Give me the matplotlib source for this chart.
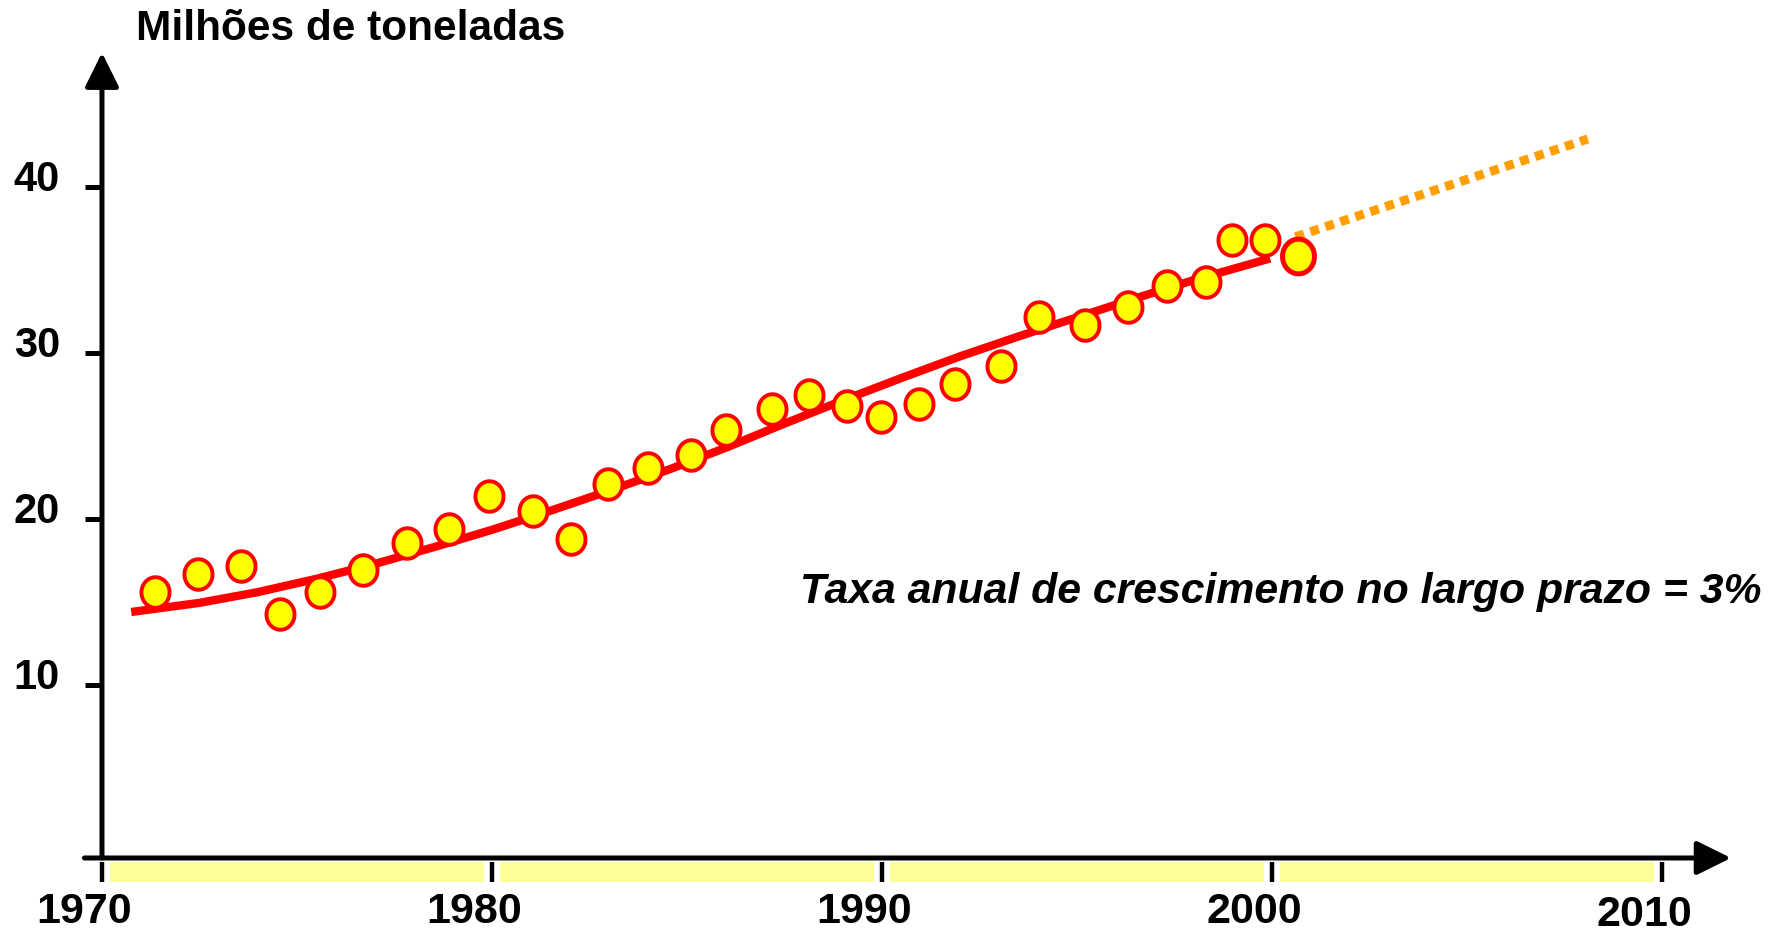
import matplotlib
matplotlib.use('Agg')
import matplotlib.pyplot as plt
import numpy as np

plt.rcParams['font.family'] = ['Liberation Sans', 'DejaVu Sans']

years = [1971.36, 1972.47, 1973.57, 1974.56, 1975.58, 1976.68, 1977.81, 1978.91,
         1979.93, 1981.06, 1982.02, 1982.98, 1984.0, 1985.1, 1986.0, 1987.19,
         1988.12, 1989.11, 1989.98, 1990.94, 1991.87, 1993.06, 1994.02, 1995.21,
         1996.31, 1997.30, 1998.31, 1998.98, 1999.82]
values = [15.6, 16.67, 17.15, 14.28, 15.58, 16.94, 18.58, 19.40,
          21.38, 20.49, 18.79, 22.13, 23.08, 23.83, 25.34, 26.63,
          27.45, 26.84, 26.16, 26.91, 28.14, 29.23, 32.15, 31.67,
          32.76, 34.05, 34.26, 36.79, 36.79]
last_year, last_value = 2000.67, 35.83

# long-term trend
trend_years = [1970.75, 1972.5, 1974.0, 1975.5, 1977.0, 1978.5, 1980.0, 1981.5,
               1983.0, 1984.5, 1986.0, 1987.5, 1989.0, 1990.5, 1992.0, 1993.5,
               1995.0, 1996.5, 1998.0, 1999.95]
trend_values = [14.40, 14.95, 15.6, 16.4, 17.3, 18.3, 19.35, 20.5,
                21.7, 22.95, 24.3, 25.75, 27.15, 28.5, 29.8, 31.0,
                32.15, 33.3, 34.4, 35.7]

# projection
proj_years = [2000.6, 2008.1]
proj_values = [37.0, 42.9]

decades = [1970, 1980, 1990, 2000, 2010]
yticks = [10, 20, 30, 40]

# slightly tall ellipse for the markers
t = np.linspace(0, 2 * np.pi, 60)
ellipse = list(zip(0.92 * np.cos(t), np.sin(t)))

fig = plt.figure(figsize=(17.76, 9.35), dpi=100)
ax = fig.add_axes([0, 0, 1, 1])
ax.set_xlim(1967.385, 2012.923)
ax.set_ylim(-5.06, 51.27)
ax.axis('off')

# axes with arrows
head = '-|>,head_length=1.05,head_width=0.52'
ax.annotate('', xy=(1970, 48.1), xytext=(1970, -0.42),
            arrowprops=dict(arrowstyle=head, mutation_scale=20, lw=3.6,
                            color='black', shrinkA=0, shrinkB=0))
ax.annotate('', xy=(2011.77, -0.42), xytext=(1969.55, -0.42),
            arrowprops=dict(arrowstyle=head, mutation_scale=20, lw=3.6,
                            color='black', shrinkA=0, shrinkB=0))
ax.hlines(yticks, 1969.56, 1970, color='black', lw=3.6)
for v in yticks:
    ax.text(1968.92, v + 0.45, str(v), ha='right', va='center',
            fontsize=30, fontweight='bold')

# yellow time band under the axis
ax.bar([d + 5 for d in decades[:-1]], 1.21, width=9.6, bottom=-1.87,
       color='#FFFF99', edgecolor='none')
ax.vlines(decades, -1.87, -0.66, color='black', lw=3.2)
for d in decades:
    ax.text(d - 0.45, -3.67 if d < 2010 else -3.85, str(d), ha='center',
            va='center', fontsize=31, fontweight='bold')

ax.plot(proj_years, proj_values, color='#FFA000', lw=6.5,
        linestyle=(0, (1.0, 0.75)), dash_capstyle='butt')
ax.plot(trend_years, trend_values, color='red', lw=6, solid_capstyle='butt')
ax.plot(years, values, linestyle='none', marker=ellipse, ms=22,
        mfc='yellow', mec='red', mew=2.8)
ax.plot([last_year], [last_value], linestyle='none', marker=ellipse, ms=25,
        mfc='yellow', mec='red', mew=3.6)

ax.text(1970.87, 49.5, 'Milhões de toneladas', ha='left', va='center',
        fontsize=30.5, fontweight='bold')
ax.text(2012.54, 14.94, 'Taxa anual de crescimento no largo prazo = 3%',
        ha='right', va='baseline', fontsize=30.8, fontweight='bold', style='italic')

fig.savefig('out.png', dpi=100)
